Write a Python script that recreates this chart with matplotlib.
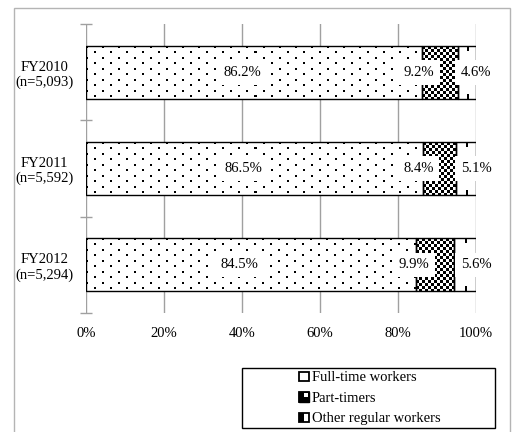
import numpy as np
import matplotlib
matplotlib.use("Agg")
import matplotlib.pyplot as plt
from matplotlib.patches import Rectangle, Patch

plt.rcParams['font.family'] = ['Liberation Serif', 'DejaVu Serif']
plt.rcParams['font.size'] = 10.5

# Employment type shares by fiscal year (%)
years = ['FY2010\n(n=5,093)', 'FY2011\n(n=5,592)', 'FY2012\n(n=5,294)']
full_time = [86.2, 86.5, 84.5]
part_time = [9.2, 8.4, 9.9]
other_regular = [4.6, 5.1, 5.6]
series_names = ['Full-time workers', 'Part-timers', 'Other regular workers']
x_ticks = [0, 20, 40, 60, 80, 100]

W, H = 513, 432
fig = plt.figure(figsize=(W / 100, H / 100), dpi=100)

# outer frame, runs off the bottom of the page
fig.patches.append(Rectangle((14 / W, -0.05), (510 - 14) / W, 1 - 8 / H + 0.05,
                             transform=fig.transFigure, fill=False,
                             ec='#b4b4b4', lw=1.0, clip_on=False))

ax = fig.add_axes([86 / W, 1 - 313 / H, (476 - 86) / W, (313 - 24) / H])
ax.set_xlim(0, 100)
ax.set_ylim(2.5, -0.5)
for s in ax.spines.values():
    s.set_visible(False)

ypos = np.arange(len(years))
bar_h = 0.55


def dot_tile():
    t = np.ones((11, 16))
    t[0:2, 0:2] = 0
    t[5:7, 8:10] = 0
    return t


def checker_tile():
    t = np.ones((6, 6))
    t[0:3, 0:3] = 0
    t[3:6, 3:6] = 0
    return t


def fill_pattern(x0, width, yc, kind):
    # paint a pixel pattern into the bar segment
    p0 = ax.transData.transform((x0, yc - bar_h / 2))
    p1 = ax.transData.transform((x0 + width, yc + bar_h / 2))
    nx = int(round(abs(p1[0] - p0[0])))
    ny = int(round(abs(p1[1] - p0[1])))
    if kind == 'dots':
        tile = dot_tile()
        img = np.tile(tile, (ny // tile.shape[0] + 1, nx // tile.shape[1] + 1))[:ny, :nx]
    elif kind == 'checker':
        tile = checker_tile()
        img = np.tile(tile, (ny // tile.shape[0] + 1, nx // tile.shape[1] + 1))[:ny, :nx]
    else:
        img = np.ones((ny, nx))
        c = nx // 2
        rows = (np.arange(ny) % 16) < 5
        img[rows, c:c + 2] = 0
    ax.imshow(img, cmap='gray', vmin=0, vmax=1, interpolation='nearest',
              extent=(x0, x0 + width, yc + bar_h / 2, yc - bar_h / 2),
              aspect='auto', zorder=3)


left = np.zeros(len(years))
for vals, kind in zip([full_time, part_time, other_regular], ['dots', 'checker', 'dash']):
    for i, v in enumerate(vals):
        fill_pattern(left[i], v, ypos[i], kind)
    ax.barh(ypos, vals, height=bar_h, left=left, facecolor='none',
            edgecolor='black', linewidth=1.0, zorder=4)
    left = left + np.array(vals)

box = dict(boxstyle='square,pad=0.4', fc='white', ec='none')
for i in range(len(years)):
    ax.text(full_time[i] / 2 - 3, ypos[i], f'{full_time[i]:.1f}%', ha='center',
            va='center', bbox=box, zorder=6)
    ax.text(full_time[i] + part_time[i] / 2 - 5.5, ypos[i], f'{part_time[i]:.1f}%',
            ha='center', va='center', bbox=box, zorder=6)
    ax.text(100, ypos[i], f'{other_regular[i]:.1f}%', ha='center', va='center',
            bbox=box, zorder=6)

ax.set_xlim(0, 100)
ax.set_ylim(2.5, -0.5)

ax.set_xticks(x_ticks)
ax.set_xticklabels([f'{t}%' for t in x_ticks])
ax.tick_params(axis='x', length=0, pad=10)
ax.grid(axis='x', color='#a0a0a0', linewidth=1.0, zorder=0)
ax.set_axisbelow(True)

ax.set_yticks(np.arange(-0.5, len(years)), labels=[])
ax.tick_params(axis='y', which='major', direction='inout', length=8,
               color='#a0a0a0', width=1.0)
ax.set_yticks(ypos, labels=years, minor=True)
ax.tick_params(axis='y', which='minor', length=0, pad=9)
for lbl in ax.get_yticklabels(minor=True):
    lbl.set_multialignment('center')

# legend box
fig.patches.append(Rectangle((242 / W, 1 - 428 / H), (495 - 242) / W, (428 - 368) / H,
                             transform=fig.transFigure, fill=False,
                             ec='black', lw=1.0))


class SwatchHandler:
    def __init__(self, style):
        self.style = style

    def legend_artist(self, legend, orig_handle, fontsize, handlebox):
        x0, y0 = handlebox.xdescent, handlebox.ydescent
        s = min(handlebox.width, handlebox.height)
        t = handlebox.get_transform()
        if self.style == 'part':
            handlebox.add_artist(Rectangle((x0, y0), s, s, fc='black', ec='black', transform=t))
            handlebox.add_artist(Rectangle((x0 + s / 2, y0 + s / 2), s / 2.5, s / 2.5,
                                           fc='white', ec='none', transform=t))
        elif self.style == 'other':
            handlebox.add_artist(Rectangle((x0, y0), s / 2, s, fc='black', ec='none', transform=t))
        sq = Rectangle((x0, y0), s, s, fc='none', ec='black', lw=1.3, transform=t)
        handlebox.add_artist(sq)
        return sq


handles = [Patch(), Patch(), Patch()]
hmap = {h: SwatchHandler(st) for h, st in zip(handles, ['full', 'part', 'other'])}
fig.legend(handles, series_names, handler_map=hmap, loc='center',
           bbox_to_anchor=(370 / W, 1 - 398 / H), frameon=False,
           handlelength=0.65, handleheight=0.65, handletextpad=0.2,
           labelspacing=0.5, borderpad=0)

fig.savefig('out.png', dpi=100)
